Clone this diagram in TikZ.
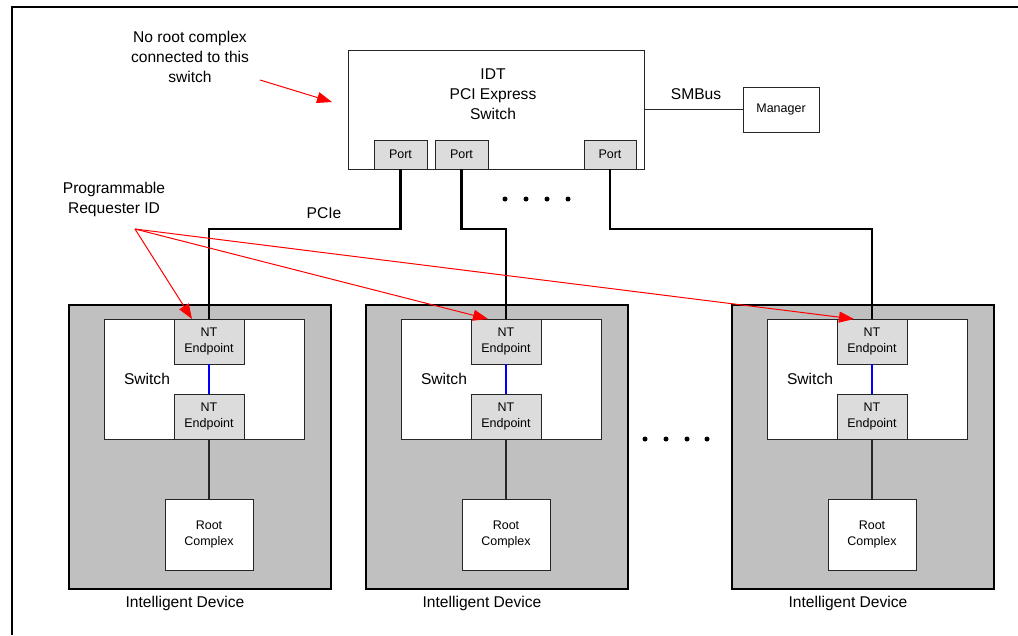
\documentclass[tikz,border=0pt]{standalone}
\usepackage{fontspec}
\setmainfont{Liberation Sans}
\usetikzlibrary{arrows.meta,calc}
\definecolor{devgray}{RGB}{192,192,192}
\definecolor{epgray}{RGB}{220,220,220}
\definecolor{redarrow}{RGB}{255,0,0}
\definecolor{bluelink}{RGB}{0,0,255}
\begin{document}
\begin{tikzpicture}[x=1pt,y=-1pt,
  big/.style={font=\fontsize{15.6}{20}\selectfont},
  small/.style={font=\fontsize{12.5}{16}\selectfont},
  box/.style={draw=black!85, line width=1pt, inner sep=0pt, outer sep=0pt, align=center},
  epbox/.style={box, fill=epgray, small},
  devbox/.style={draw=black, line width=1.3pt, fill=devgray, inner sep=0pt, outer sep=0pt},
  pcie/.style={line width=2.2pt, black},
  thin/.style={line width=1.2pt, black!85},
  redarr/.style={redarrow, line width=1pt, -{Triangle[length=15pt,width=11pt]}},
  blue link/.style={bluelink, line width=2pt},
  dot/.style={circle, fill=black, inner sep=0pt, minimum size=5pt},
  lbl/.style={big, align=center, inner sep=0pt}
]
\useasboundingbox (0,0) rectangle (1018,635);
\fill[white] (0,0) rectangle (1018,635);
% frame
\draw[line width=2pt] (12,635) -- (12,7) -- (1018,7);

% top switch
\node[box, fill=white, minimum width=296pt, minimum height=119pt] (sw) at (496,109.5) {};
\node[lbl] (swtxt) at (493,94) {IDT\\PCI Express\\Switch};
\node[epbox, minimum width=53pt, minimum height=29pt] (p1) at (400.5,154.5) {Port};
\node[epbox, minimum width=53pt, minimum height=29pt] (p2) at (461.5,154.5) {Port};
\node[epbox, minimum width=52pt, minimum height=29pt] (p3) at (610,154.5) {Port};

% manager
\node[box, fill=white, small, minimum width=76pt, minimum height=45pt] (mgr) at (781,109.5) {Manager};
\draw[thin] (mgr.west) -- (mgr.west -| sw.east);
\node[lbl] (smbus) at (696,94) {SMBus};

% dots between ports
\foreach \x [count=\k] in {505,526,547,568} \node[dot] (td\k) at (\x,199) {};

% devices
\foreach \i/\dx in {1/0,2/297,3/663}{
  \node[devbox, minimum width=262pt, minimum height=284pt] (d\i) at (200+\dx,447) {};
  \node[box, fill=white, minimum width=200pt, minimum height=120pt] (d\i sw) at (204+\dx,379) {};
  \node[epbox, minimum width=70pt, minimum height=45pt] (d\i epT) at (209+\dx,341.5) {NT\\Endpoint};
  \node[epbox, minimum width=70pt, minimum height=45pt] (d\i epB) at (209+\dx,416.5) {NT\\Endpoint};
  \node[lbl] (d\i swl) at (147+\dx,379) {Switch};
  \node[box, fill=white, small, minimum width=88pt, minimum height=71pt] (d\i rc) at (209+\dx,534.5) {Root\\Complex};
  \node[lbl] (d\i lbl) at (185+\dx,603) {Intelligent Device};
  \draw[blue link] (d\i epT.south) -- (d\i epB.north);
  \draw[thin] (d\i epB.south) -- (d\i rc.north);
}

% dots between devices
\foreach \x [count=\k] in {645,666,687,707} \node[dot] (bd\k) at (\x,439) {};

% PCIe links
\draw[pcie] (p1.south) -- ++(0,60) -| (d1epT.north);
\draw[pcie] (p2.south) -- ++(0,60) -| (d2epT.north);
\draw[pcie] (p3.south) -- ++(0,60) -| (d3epT.north);
\node[lbl] (pcie) at (324,213) {PCIe};

% annotations
\node[lbl] (noroot) at (190,57) {No root complex\\connected to this\\switch};
\coordinate (na) at (260,80);
\coordinate (nb) at (332,102);
\draw[redarr] (na) -- (nb);

\node[lbl] (prid) at (114,199.5) {Programmable\\Requester ID};
\coordinate (pr) at (135,229);
\draw[redarr] (pr) -- ($(d1epT.north west)+(18,0)$);
\draw[redarr] (pr) -- ($(d2epT.north west)+(17,0)$);
\draw[redarr] (pr) -- ($(d3epT.north west)+(17,0)$);
\end{tikzpicture}
\end{document}
